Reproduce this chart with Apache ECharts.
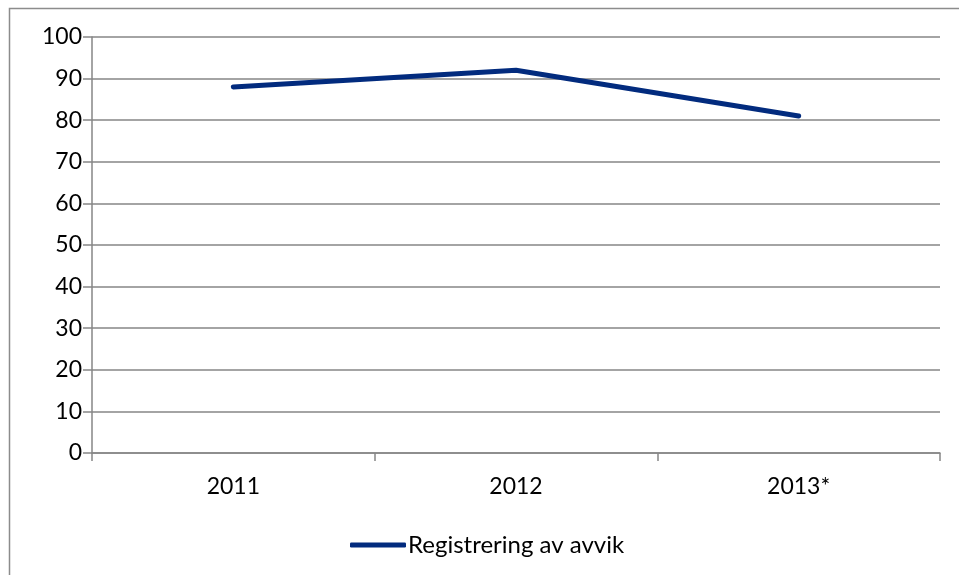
<!DOCTYPE html>
<html>
<head>
<meta charset="utf-8">
<script src="https://cdn.jsdelivr.net/npm/echarts@6/dist/echarts.min.js"></script>
<style>
html,body{margin:0;padding:0;background:#fff;}
#c{width:959px;height:575px;}
</style>
</head>
<body>
<div id="c"></div>
<script>
const categories = ['2011', '2012', '2013*'];
const seriesName = 'Registrering av avvik';
const values = [88, 92, 81];
const yTicks = { min: 0, max: 100, interval: 10 };

const chart = echarts.init(document.getElementById('c'), null, { renderer: 'canvas' });
const font = 'Lato, "Open Sans", sans-serif';
chart.setOption({
  animation: false,
  backgroundColor: '#fff',
  graphic: [{
    type: 'rect',
    shape: { x: 9.5, y: 8.5, width: 1000, height: 1000 },
    style: { fill: 'none', stroke: '#8c8c8c', lineWidth: 1.5 },
    silent: true
  }],
  grid: { left: 92, right: 19, top: 37, bottom: 122, containLabel: false },
  xAxis: {
    type: 'category',
    data: categories,
    boundaryGap: true,
    axisLine: { show: true, lineStyle: { color: '#868686', width: 1.5 } },
    axisTick: { show: true, length: 8, inside: false, lineStyle: { color: '#868686', width: 1.5 } },
    axisLabel: { color: '#000', fontFamily: font, fontSize: 23, margin: 22 },
    splitLine: { show: false }
  },
  yAxis: {
    type: 'value',
    min: yTicks.min, max: yTicks.max, interval: yTicks.interval,
    axisLine: { show: true, lineStyle: { color: '#868686', width: 1.5 } },
    axisTick: { show: true, length: 9, lineStyle: { color: '#868686', width: 1.5 } },
    axisLabel: { color: '#000', fontFamily: font, fontSize: 23, margin: 10 },
    splitLine: { show: true, lineStyle: { color: '#868686', width: 1.5 } }
  },
  legend: {
    show: true,
    left: 345, top: 528,
    icon: 'roundRect',
    itemWidth: 56, itemHeight: 5,
    textStyle: { color: '#000', fontFamily: font, fontSize: 24, padding: [0, 0, 0, -3] },
    data: [seriesName]
  },
  series: [{
    name: seriesName,
    type: 'line',
    data: values,
    showSymbol: false,
    symbol: 'none',
    lineStyle: { color: '#022B7E', width: 5, cap: 'round', join: 'round' },
    itemStyle: { color: '#022B7E' }
  }]
});
</script>
</body>
</html>
